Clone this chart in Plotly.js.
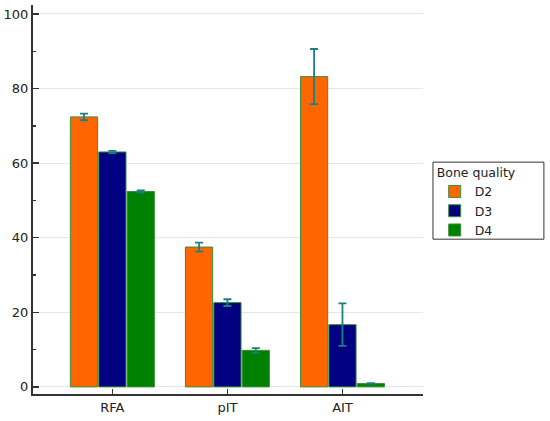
<!DOCTYPE html>
<html>
<head>
<meta charset="utf-8">
<script src="https://cdn.plot.ly/plotly-3.0.1.min.js"></script>
<style>html,body{margin:0;padding:0;background:#fff;}#chart{width:550px;height:421px;}</style>
</head>
<body>
<div id="chart"></div>
<script>
const categories = ["RFA", "pIT", "AIT"];
const seriesNames = ["D2", "D3", "D4"];
const d2Values = [72.4, 37.5, 83.2];
const d2Errors = [0.9, 1.2, 7.4];
const d3Values = [63.0, 22.6, 16.7];
const d3Errors = [0.3, 0.9, 5.7];
const d4Values = [52.4, 9.8, 0.9];
const d4Errors = [0.3, 0.6, 0.1];
const yTickVals = [0, 20, 40, 60, 80, 100];
const legendTitle = "Bone quality";

const colors = ["#ff6600", "#000080", "#008000"];
const values = [d2Values, d3Values, d4Values];
const errors = [d2Errors, d3Errors, d4Errors];

const traces = seriesNames.map((name, i) => ({
  type: "bar",
  name: name,
  x: categories,
  y: values[i],
  marker: {color: colors[i], line: {color: "#3a8f3a", width: 1}},
  error_y: {type: "data", array: errors[i], visible: true, color: "#1a8080", thickness: 1.8, width: 4}
}));

const layout = {
  width: 550, height: 421,
  margin: {l: 33, r: 127, t: 5, b: 27},
  paper_bgcolor: "#ffffff",
  plot_bgcolor: "#ffffff",
  font: {family: "DejaVu Sans, Verdana, sans-serif", size: 12.5, color: "#222"},
  barmode: "group",
  bargap: 0.26,
  bargroupgap: 0.04,
  showlegend: true,
  legend: {
    x: 1.03, y: 0.6, xanchor: "left", yanchor: "top",
    bgcolor: "rgba(0,0,0,0)",
    borderwidth: 0,
    title: {text: legendTitle, font: {size: 12.5}},
    font: {size: 12.5},
    itemwidth: 30,
    tracegroupgap: 0
  },
  shapes: [{
    type: "rect", xref: "paper", yref: "paper",
    x0: 1.0256, x1: 1.310, y0: 0.398, y1: 0.596,
    line: {color: "#333", width: 1}, fillcolor: "rgba(0,0,0,0)", layer: "below"
  }],
  xaxis: {
    range: [-0.69, 2.70],
    showline: true, linecolor: "#333", linewidth: 2,
    ticks: "inside", ticklen: 5, tickcolor: "#333", tickwidth: 1.5,
    showgrid: false, zeroline: false,
    tickfont: {size: 13}
  },
  yaxis: {
    range: [-1.9, 102.4],
    tickvals: yTickVals,
    showline: true, linecolor: "#333", linewidth: 2,
    ticks: "inside", ticklen: 6, tickcolor: "#333", tickwidth: 1.5,
    minor: {dtick: 10, ticks: "inside", ticklen: 3, tickcolor: "#333", showgrid: false},
    showgrid: true, gridcolor: "#e6e6e6", gridwidth: 1,
    zeroline: false,
    tickfont: {size: 13}
  }
};

Plotly.newPlot("chart", traces, layout, {displayModeBar: false, staticPlot: true});
</script>
</body>
</html>
